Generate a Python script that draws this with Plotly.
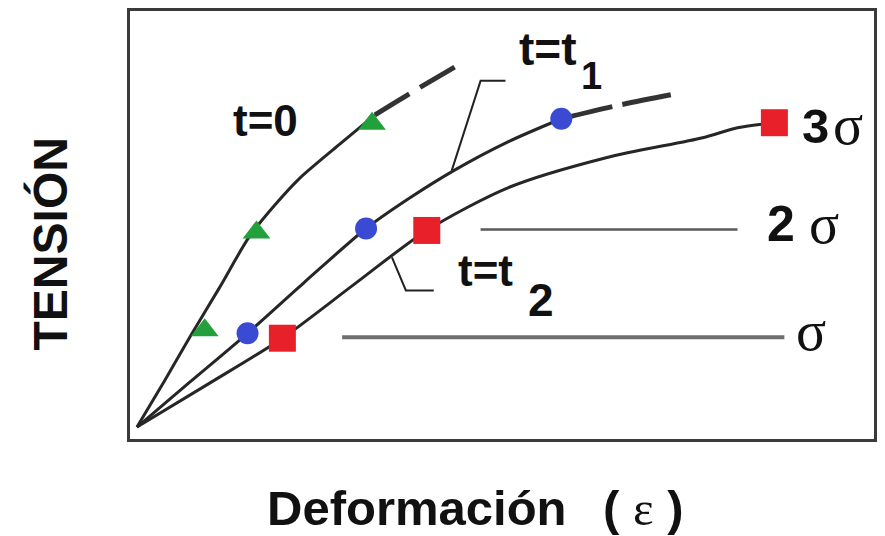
import plotly.graph_objects as go

# ---- data (strain in arbitrary units, stress in units of sigma) ----
t0_strain = [0.094, 0.469, 0.803, 1.205, 1.606, 1.941, 2.276, 2.811, 3.293]
t0_stress = [0.112, 0.550, 0.951, 1.417, 1.893, 2.182, 2.434, 2.751, 3.030]
t0_ext_strain = [3.293, 3.775, 4.391]
t0_ext_stress = [3.030, 3.235, 3.487]

t1_strain = [0.094, 0.803, 1.580, 2.343, 3.173, 3.748, 4.351, 5.087, 5.797]
t1_stress = [0.112, 0.531, 0.988, 1.464, 1.967, 2.247, 2.508, 2.779, 2.993]
t1_ext_strain = [5.797, 6.533, 7.269]
t1_ext_stress = [2.993, 3.114, 3.217]

t2_strain = [0.094, 1.071, 2.048, 3.012, 3.989, 5.087, 6.399, 7.697, 8.166, 8.661]
t2_stress = [0.112, 0.522, 0.942, 1.445, 1.949, 2.350, 2.629, 2.816, 2.909, 2.956]

tri_strain = [1.004, 1.700, 3.253]
tri_stress = [1.016, 1.930, 2.946]
circ_strain = [1.580, 3.173, 5.797]
circ_stress = [0.988, 1.967, 2.993]
sq_strain = [2.048, 3.989, 8.661]
sq_stress = [0.942, 1.949, 2.956]

lvl2_strain = [4.712, 8.166]
lvl2_stress = [1.958, 1.958]
lvl1_strain = [2.851, 8.795]
lvl1_stress = [0.951, 0.951]

lead1_strain = [4.324, 4.712, 5.047]
lead1_stress = [2.508, 3.347, 3.347]
lead2_strain = [3.521, 3.708, 4.083]
lead2_stress = [1.697, 1.389, 1.389]

CURVE = "#262626"
fig = go.Figure()

def line(x, y, color=CURVE, width=3, dash="solid", shape="spline"):
    fig.add_trace(go.Scatter(x=x, y=y, mode="lines",
                             line=dict(color=color, width=width, dash=dash, shape=shape,
                                       smoothing=0.8),
                             hoverinfo="skip", showlegend=False))

line(lvl1_strain, lvl1_stress, color="#6e6e6e", width=4, shape="linear")
line(lvl2_strain, lvl2_stress, color="#5a5a5a", width=2.5, shape="linear")
line(lead1_strain, lead1_stress, color="#222", width=2, shape="linear")
line(lead2_strain, lead2_stress, color="#222", width=2, shape="linear")

line(t0_strain, t0_stress)
line(t0_ext_strain, t0_ext_stress, color="#333", width=5, dash="40px,13px")
line(t1_strain, t1_stress)
line(t1_ext_strain, t1_ext_stress, color="#333", width=5, dash="52px,11px")
line(t2_strain, t2_stress)

fig.add_trace(go.Scatter(x=tri_strain, y=tri_stress, mode="markers",
                         marker=dict(symbol="triangle-up", size=24, color="#22a03c"),
                         showlegend=False, hoverinfo="skip"))
fig.add_trace(go.Scatter(x=circ_strain, y=circ_stress, mode="markers",
                         marker=dict(symbol="circle", size=22, color="#3a4ad2"),
                         showlegend=False, hoverinfo="skip"))
fig.add_trace(go.Scatter(x=sq_strain, y=sq_stress, mode="markers",
                         marker=dict(symbol="square", size=27, color="#e8202a"),
                         showlegend=False, hoverinfo="skip"))

SANS = "Liberation Sans, Arial, sans-serif"
SERIF = "Liberation Serif, Times New Roman, serif"

def txt(x, y, s, size, family=SANS, bold=True, ref="data", **kw):
    fig.add_annotation(x=x, y=y, xref="x" if ref == "data" else "paper",
                       yref="y" if ref == "data" else "paper",
                       text=f"<b>{s}</b>" if bold else s, showarrow=False,
                       xanchor="center", yanchor="middle",
                       font=dict(family=family, size=size, color="#111"), **kw)

txt(1.821, 2.974, "t=0", 44)
txt(5.62, 3.646, "t=t", 46)
txt(6.20, 3.394, "1", 38)
txt(4.779, 1.576, "t=t", 44)
txt(5.52, 1.296, "2", 46)

txt(9.210, 2.928, "3", 49)
txt(9.652, 2.937, "σ", 56, family=SERIF, bold=False)
txt(8.755, 2.005, "2", 50)
txt(9.324, 2.014, "σ", 56, family=SERIF, bold=False)
txt(9.150, 1.012, "σ", 56, family=SERIF, bold=False)

# axis titles
txt(0, 0.4545, "TENSIÓN", 48, ref="paper", textangle=-90, xshift=-80)
txt(0.386, 0, "Deformación", 49, ref="paper", yshift=-69)
fig.add_annotation(x=0.690, y=0, xref="paper", yref="paper", yshift=-69,
                   text='<b>(</b>\u00a0<span style="font-family:Liberation Serif">ε</span>\u00a0<b>)</b>',
                   showarrow=False, xanchor="center", yanchor="middle",
                   font=dict(family=SANS, size=49, color="#111"))

axis_common = dict(showgrid=False, zeroline=False, showticklabels=False, ticks="",
                   showline=True, mirror=True, linecolor="#3a3a3a", linewidth=3)
fig.update_layout(
    width=885, height=536,
    margin=dict(l=130, r=8, t=10, b=97),
    paper_bgcolor="white", plot_bgcolor="white",
    xaxis=dict(range=[0, 10], **axis_common),
    yaxis=dict(range=[0, 4], **axis_common),
)
fig.write_html("out.html", config={"displayModeBar": False},
               post_script="document.body.style.margin='0';document.body.style.overflow='hidden';")
